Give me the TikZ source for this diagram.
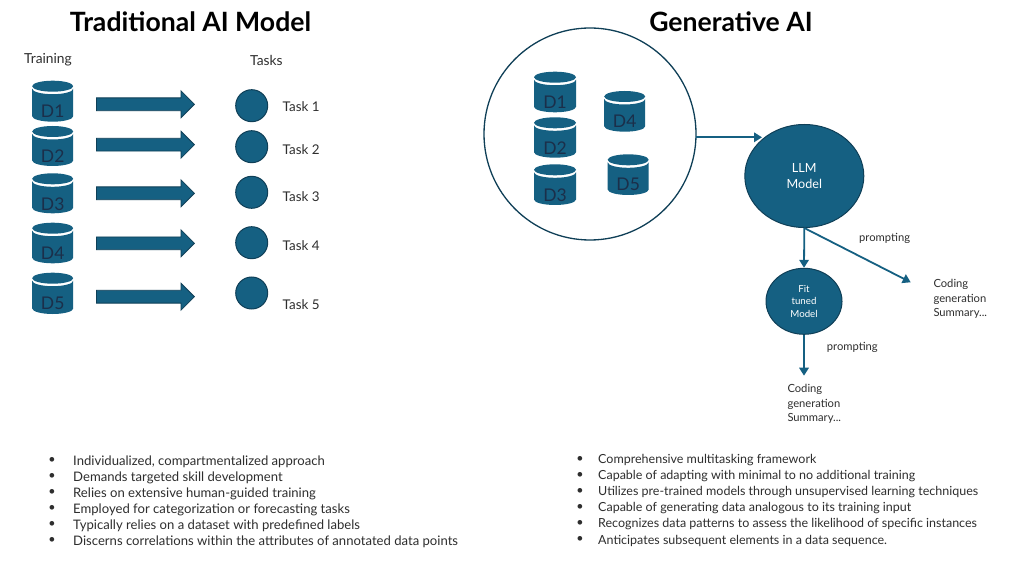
\documentclass[tikz,border=0pt]{standalone}
\usepackage{fontspec}
\setmainfont{Lato}
\usetikzlibrary{shapes.arrows,shapes.geometric,arrows.meta}
\definecolor{oteal}{HTML}{156082}
\definecolor{rim}{HTML}{0F3F57}
\definecolor{ink}{HTML}{2E2E2E}
\definecolor{dlab}{HTML}{1B2F4A}
\tikzset{
  x=1pt,y=-1pt,
  lbl/.style={inner sep=0pt,anchor=west,text=ink,font=\fontsize{11.2}{14.4}\selectfont,align=left},
  head/.style={lbl,font=\fontsize{13.8}{16}\selectfont},
  tasklbl/.style={lbl,font=\fontsize{13.4}{16}\selectfont},
  btxt/.style={inner sep=0pt,anchor=west,text=ink,font=\fontsize{13.1}{15}\selectfont},
  rtxt/.style={btxt,font=\fontsize{12.5}{15}\selectfont},
  bdot/.style={inner sep=0pt,anchor=center,text=ink,font=\fontsize{12.5}{15}\selectfont},
  ttl/.style={inner sep=0pt,anchor=center,text=black,font=\fontsize{26.6}{30}\selectfont\bfseries},
  task/.style={circle,draw=rim,line width=1pt,fill=oteal,inner sep=0pt,minimum size=32pt},
  blockarrow/.style={single arrow,draw=rim,line width=.8pt,fill=oteal,inner xsep=0pt,inner ysep=6pt,
    minimum width=26pt,minimum height=98pt,single arrow head extend=7pt,
    single arrow tip angle=90,anchor=west},
  conn/.style={draw=oteal,line width=1.8pt,-{Triangle[length=8pt,width=9.5pt]}},
  cyllab/.style={inner sep=0pt,text=dlab,font=\fontsize{17.5}{20}\selectfont},
}
% \cyl{name}{centre x}{top y}{bottom y}{half width}{label}
\newcommand{\cyl}[6]{%
  \fill[oteal] (#2-#5,#3+8) -- (#2-#5,#4-5.5) arc[start angle=180,end angle=360,x radius=#5,y radius=-5.5]
     -- (#2+#5,#3+8) arc[start angle=0,end angle=-180,x radius=#5,y radius=-5.5] -- cycle;
  \fill[oteal] (#2,#3+5.5) ellipse[x radius=#5,y radius=5.5];
  \node[cyllab] (#1) at (#2,#3+30.5) {#6};
}
\begin{document}
\begin{tikzpicture}
\useasboundingbox (0,0) rectangle (1024,561);
\fill[white] (0,0) rectangle (1024,561);
\node[ttl] (t1) at (190.5,22) {Traditional AI Model};
\node[ttl] (t2) at (731,22) {Generative AI};
\node[head] (train) at (24,59.5) {Training};
\node[head] (tasks) at (250,60.5) {Tasks};
\cyl{a1}{52.7}{80.7}{121.7}{20.5}{D1}
\cyl{a2}{52.7}{126}{166}{20.5}{D2}
\cyl{a3}{52.7}{173.3}{213.3}{20.5}{D3}
\cyl{a4}{52.7}{222.7}{263.3}{20.5}{D4}
\cyl{a5}{52.7}{272.7}{314}{20.5}{D5}
\node[blockarrow] (b1) at (96,104.3) {};
\node[blockarrow] (b2) at (96,144.7) {};
\node[blockarrow] (b3) at (96,193.3) {};
\node[blockarrow] (b4) at (96,243.3) {};
\node[blockarrow] (b5) at (96,296.7) {};
\node[task] (c1) at (251.7,105.7) {};
\node[task] (c2) at (251.7,146.7) {};
\node[task] (c3) at (251.7,192.3) {};
\node[task] (c4) at (251.7,242.7) {};
\node[task] (c5) at (251.7,293) {};
\node[tasklbl] (l1) at (282.5,106.7) {Task 1};
\node[tasklbl] (l2) at (282.5,150) {Task 2};
\node[tasklbl] (l3) at (282.5,196.5) {Task 3};
\node[tasklbl] (l4) at (282.5,245.3) {Task 4};
\node[tasklbl] (l5) at (282.5,304.2) {Task 5};
% right
\node[circle,draw=rim,line width=1.3pt,fill=white,inner sep=0pt,minimum size=212pt] (big) at (590,134) {};
\cyl{g1}{555}{71.7}{112.3}{21}{D1}
\cyl{g2}{555}{117.3}{157.7}{21}{D2}
\cyl{g3}{555}{164.3}{205}{21}{D3}
\cyl{g4}{624.7}{91}{131.7}{20.5}{D4}
\cyl{g5}{628.2}{154.3}{195}{20.5}{D5}
\node[ellipse,draw=rim,line width=1pt,fill=oteal,inner sep=0pt,minimum width=119pt,minimum height=103pt,text=white,align=center,font=\fontsize{12.6}{16}\selectfont] (llm) at (804.3,176) {LLM\\Model};
\node[ellipse,draw=rim,line width=1pt,fill=oteal,inner sep=0pt,minimum width=76pt,minimum height=66pt,text=white,align=center,font=\fontsize{9.7}{12.3}\selectfont] (fit) at (804,301.3) {Fit\\tuned\\Model};
\coordinate (o1) at (910.7,282.3);
\coordinate (o2) at (804,375.7);
\coordinate (bigr) at (696,137.3);
\coordinate (llml) at (762,137.3);
\draw[conn] (bigr) -- (llml);
\draw[conn] (llm.south) -- (fit.north);
\draw[conn] (llm.south) -- (o1);
\draw[conn] (fit.south) -- (o2);
\node[lbl] (p1) at (859,238.5) {prompting};
\node[lbl] (p2) at (826.7,347.7) {prompting};
\node[lbl] (s1) at (933.3,299) {Coding\\generation\\Summary...};
\node[lbl] (s2) at (787.3,404) {Coding\\generation\\Summary...};
% bullets
\foreach \i/\y/\t in {1/461.5/{Individualized, compartmentalized approach},
 2/477.5/{Demands targeted skill development},
 3/493.5/{Relies on extensive human-guided training},
 4/509.5/{Employed for categorization or forecasting tasks},
 5/525.5/{Typically relies on a dataset with predefined labels},
 6/541.5/{Discerns correlations within the attributes of annotated data points}}{
  \node[bdot] (ld\i) at (52,\y-1) {•};
  \node[btxt] (lt\i) at (73,\y) {\t};
}
\foreach \i/\y/\t in {1/460.5/{Comprehensive multitasking framework},
 2/476.5/{Capable of adapting with minimal to no additional training},
 3/492.5/{Utilizes pre-trained models through unsupervised learning techniques},
 4/508.5/{Capable of generating data analogous to its training input},
 5/524.5/{Recognizes data patterns to assess the likelihood of specific instances},
 6/540.5/{Anticipates subsequent elements in a data sequence.}}{
  \node[bdot] (rd\i) at (580,\y-1) {•};
  \node[rtxt] (rt\i) at (598,\y) {\t};
}
\end{tikzpicture}
\end{document}
